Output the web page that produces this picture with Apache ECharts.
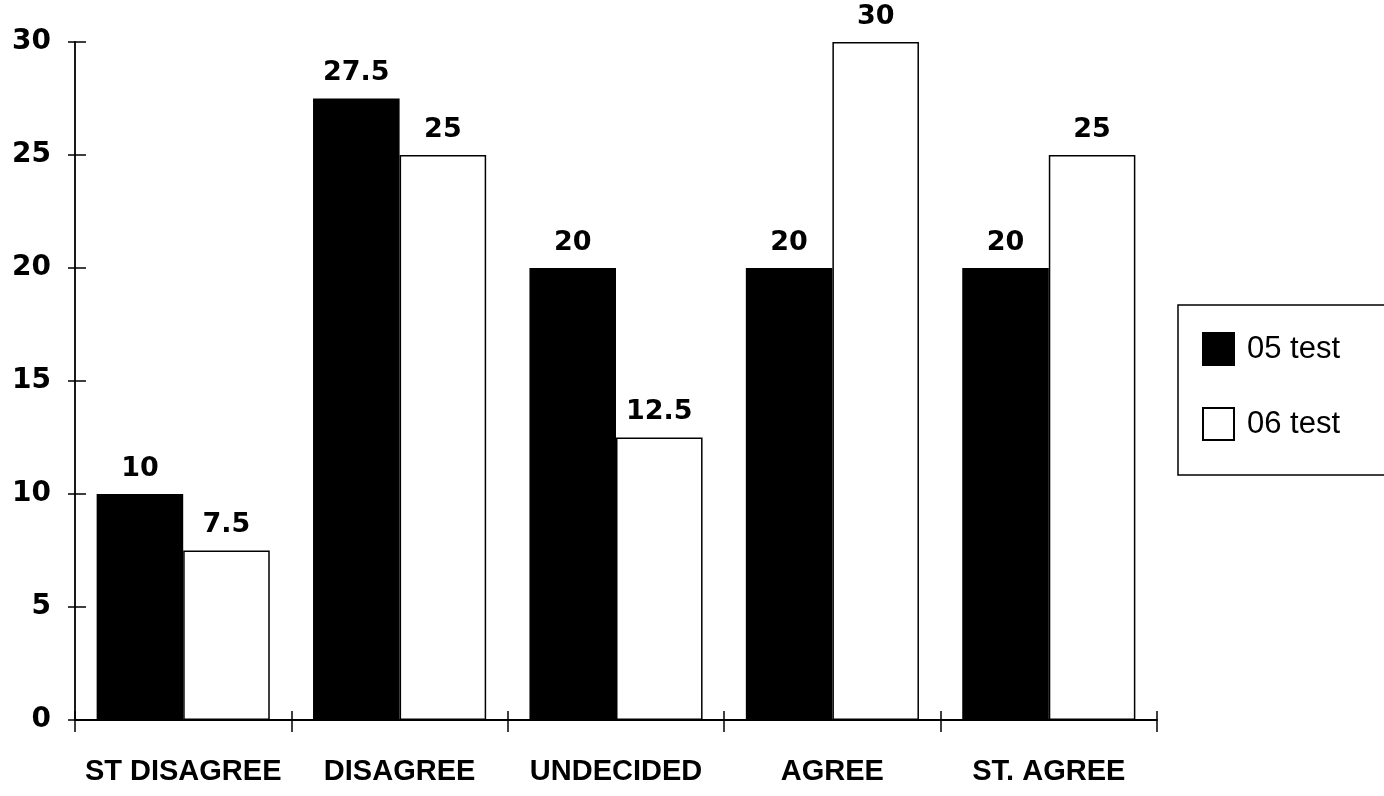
<!DOCTYPE html>
<html>
<head>
<meta charset="utf-8">
<script src="https://cdn.jsdelivr.net/npm/echarts@6/dist/echarts.min.js"></script>
<style>
  html, body { margin: 0; padding: 0; background: #fff; }
  #chart { width: 1384px; height: 796px; }
</style>
</head>
<body>
<div id="chart"></div>
<script>
// Survey responses per answer category, two test rounds
const categories = ['ST DISAGREE', 'DISAGREE', 'UNDECIDED', 'AGREE', 'ST. AGREE'];
const test05 = [10, 27.5, 20, 20, 20];
const test06 = [7.5, 25, 12.5, 30, 25];
const seriesNames = ['05 test', '06 test'];
const yTicks = { min: 0, max: 30, interval: 5 };

const TEXT_FONT = '"Liberation Sans", Arial, sans-serif';
const NUM_FONT = '"DejaVu Sans", "Liberation Sans", sans-serif';
const gridBox = { left: 75, right: 227, top: 42, bottom: 76 };

const chart = echarts.init(document.getElementById('chart'), null, { renderer: 'canvas' });

const labelStyle = {
  show: true,
  position: 'top',
  distance: 12,
  color: '#000',
  fontFamily: NUM_FONT,
  fontWeight: 'bold',
  fontSize: 27
};

chart.setOption({
  backgroundColor: '#fff',
  animation: false,
  // second grid overlays the first and only adds the inward half of the ticks
  grid: [Object.assign({}, gridBox), Object.assign({}, gridBox)],
  legend: {
    orient: 'vertical',
    left: 1178,
    top: 305,
    padding: [27, 80, 34, 24],
    itemGap: 41,
    itemWidth: 31,
    itemHeight: 32,
    borderColor: '#000',
    borderWidth: 1.5,
    icon: 'rect',
    textStyle: { color: '#000', fontFamily: TEXT_FONT, fontSize: 31, padding: [0, 0, 0, 8] },
    data: seriesNames
  },
  xAxis: [
    {
      type: 'category',
      gridIndex: 0,
      data: categories,
      axisLine: { lineStyle: { color: '#000', width: 1.8 } },
      axisTick: { show: true, length: 12, lineStyle: { color: '#000', width: 1.5 } },
      axisLabel: { color: '#000', fontFamily: TEXT_FONT, fontWeight: 'bold', fontSize: 29, margin: 37, interval: 0 }
    },
    {
      type: 'category',
      gridIndex: 1,
      data: categories,
      axisLine: { show: false },
      axisTick: { show: true, inside: true, length: 9, lineStyle: { color: '#000', width: 1.5 } },
      axisLabel: { show: false }
    }
  ],
  yAxis: [
    {
      type: 'value',
      gridIndex: 0,
      min: yTicks.min,
      max: yTicks.max,
      interval: yTicks.interval,
      splitLine: { show: false },
      axisLine: { show: true, lineStyle: { color: '#000', width: 1.8 } },
      axisTick: { show: true, length: 7, lineStyle: { color: '#000', width: 1.5 } },
      axisLabel: { color: '#000', fontFamily: NUM_FONT, fontWeight: 'bold', fontSize: 28, margin: 24 }
    },
    {
      type: 'value',
      gridIndex: 1,
      min: yTicks.min,
      max: yTicks.max,
      interval: yTicks.interval,
      splitLine: { show: false },
      axisLine: { show: false },
      axisTick: { show: true, inside: true, length: 11, lineStyle: { color: '#000', width: 1.5 } },
      axisLabel: { show: false }
    }
  ],
  series: [
    {
      name: seriesNames[0],
      type: 'bar',
      xAxisIndex: 0,
      yAxisIndex: 0,
      data: test05,
      barGap: '0%',
      barCategoryGap: '20%',
      itemStyle: { color: '#000', borderColor: '#000', borderWidth: 1.5 },
      label: labelStyle
    },
    {
      name: seriesNames[1],
      type: 'bar',
      xAxisIndex: 0,
      yAxisIndex: 0,
      data: test06,
      barGap: '0%',
      barCategoryGap: '20%',
      itemStyle: { color: '#fff', borderColor: '#000', borderWidth: 1.5 },
      label: labelStyle
    }
  ]
});
</script>
</body>
</html>
